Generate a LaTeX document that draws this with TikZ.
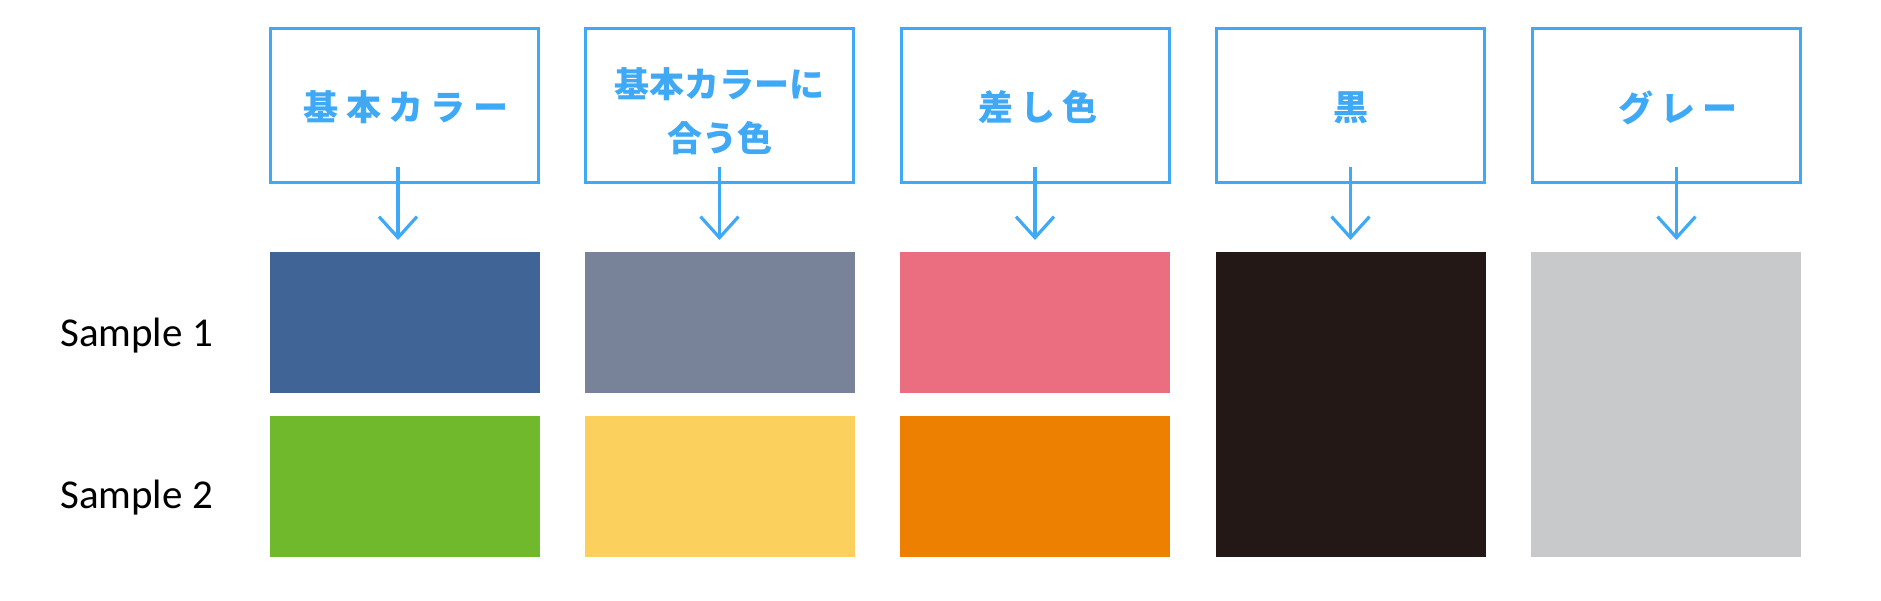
\documentclass[tikz,border=0pt]{standalone}
\usepackage{fontspec}
\newfontfamily\jp{Noto Sans CJK JP}
\newfontfamily\jpw{Noto Sans CJK JP}[LetterSpace=21]
\newfontfamily\samplefont{Carlito}
\usetikzlibrary{arrows.meta}
\definecolor{cblue}{HTML}{3FA9F5}
\definecolor{c1}{HTML}{3F6495}
\definecolor{c2}{HTML}{788299}
\definecolor{c3}{HTML}{EA6E80}
\definecolor{c4}{HTML}{71B92C}
\definecolor{c5}{HTML}{FCD05C}
\definecolor{c6}{HTML}{ED8000}
\definecolor{c7}{HTML}{231816}
\definecolor{c8}{HTML}{C8C9CA}
\begin{document}
\begin{tikzpicture}[x=1pt,y=-1pt,
  hbox/.style={draw=cblue,line width=3pt,minimum width=268pt,minimum height=154pt,inner sep=0pt},
  lbl/.style={text=cblue,font=\jp\bfseries\fontsize{35}{54}\selectfont,inner sep=0pt,align=center},
  wide/.style={font=\jpw\bfseries\fontsize{35}{54}\selectfont},
  swatch/.style={minimum width=270pt,inner sep=0pt,outer sep=0pt},
  arr/.style={draw=cblue,line width=3.2pt,shorten >=12pt,-{Straight Barb[length=21pt,width=38pt,line width=3.2pt]}},
  smp/.style={anchor=base west,inner sep=0pt,font=\samplefont\fontsize{41}{50}\selectfont}]
\useasboundingbox (0,0) rectangle (1881,601);
% header boxes
\node[hbox] (b1) at (404.5,105.5) {};
\node[hbox] (b2) at (719.5,105.5) {};
\node[hbox] (b3) at (1035,105.5) {};
\node[hbox] (b4) at (1350.5,105.5) {};
\node[hbox] (b5) at (1666,105.5) {};
% labels
\node[lbl,wide] (t1) at (406,107.5) {基本カラー};
\node[lbl] (t2) at (719.6,110.8) {基本カラーに\\合う色};
\node[lbl,wide] (t3) at (1038,107.5) {差し色};
\node[lbl] (t4) at (1351,107.5) {黒};
\node[lbl,wide] (t5) at (1678,107.5) {グレー};
% swatches
\node[swatch,fill=c1,minimum height=141pt] (s1) at (404.5,322.5) {};
\node[swatch,fill=c2,minimum height=141pt] (s2) at (719.5,322.5) {};
\node[swatch,fill=c3,minimum height=141pt] (s3) at (1035,322.5) {};
\node[swatch,fill=c4,minimum height=141pt] (s6) at (404.5,486.5) {};
\node[swatch,fill=c5,minimum height=141pt] (s7) at (719.5,486.5) {};
\node[swatch,fill=c6,minimum height=141pt] (s8) at (1035,486.5) {};
\node[swatch,fill=c7,minimum height=305pt] (s4) at (1350.5,404.5) {};
\node[swatch,fill=c8,minimum height=305pt] (s5) at (1666,404.5) {};
% arrows
\draw[arr] ([xshift=-6.5pt,yshift=17pt]b1.south) -- ([xshift=-6.5pt]s1.north);
\draw[arr] ([yshift=17pt]b2.south) -- (s2.north);
\draw[arr] ([yshift=17pt]b3.south) -- (s3.north);
\draw[arr] ([yshift=17pt]b4.south) -- (s4.north);
\draw[arr] ([xshift=10.5pt,yshift=17pt]b5.south) -- ([xshift=10.5pt]s5.north);
% row labels
\node[smp] (r1) at (60,346) {Sample 1};
\node[smp] (r2) at (60,508) {Sample 2};
\end{tikzpicture}
\end{document}
